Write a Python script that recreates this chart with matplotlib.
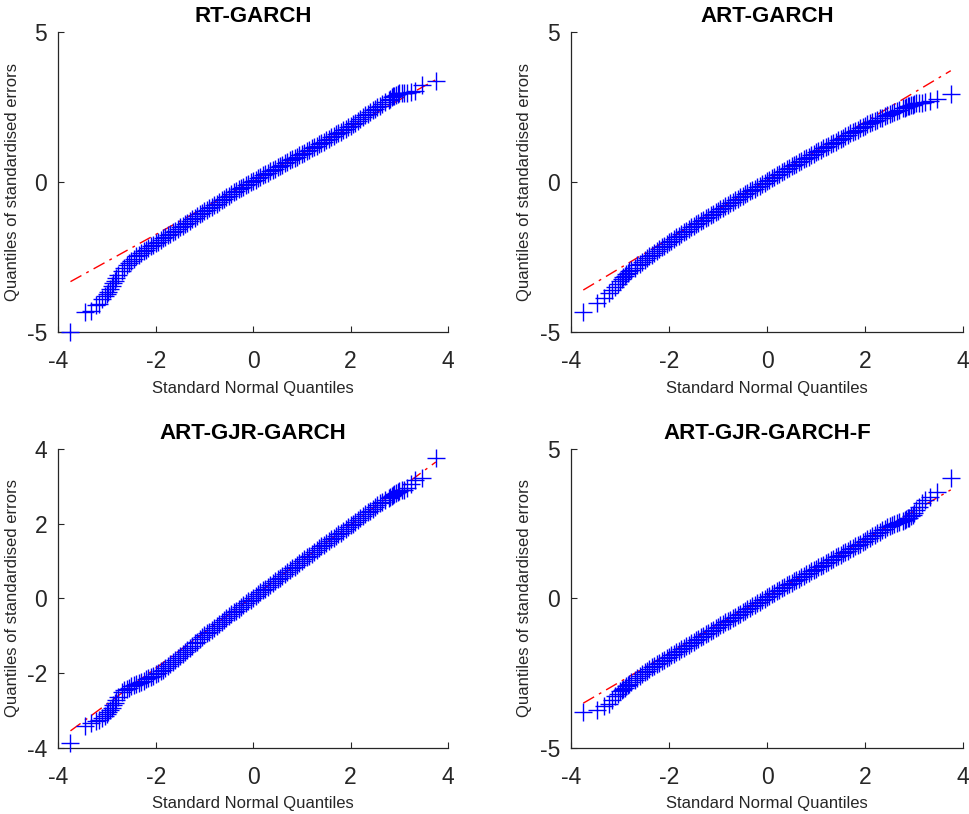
import matplotlib
matplotlib.use("Agg")
import matplotlib.pyplot as plt

plt.rcParams['font.family'] = ['Liberation Sans', 'DejaVu Sans']
plt.rcParams['axes.unicode_minus'] = False

# theoretical standard normal quantiles: lower tail, body, upper tail
std_normal_q = [
    -3.75, -3.46, -3.33, -3.23, -3.16, -3.10, -3.05, -3.00, -2.97, -2.93, -2.90, -2.87, -2.84, -2.81, -2.78,
    -2.70, -2.65, -2.60, -2.55, -2.50, -2.45, -2.40, -2.35, -2.30, -2.25, -2.20, -2.15, -2.10, -2.05,
    -2.00, -1.95, -1.90, -1.85, -1.80, -1.75, -1.70, -1.65, -1.60, -1.55,
    -1.50, -1.45, -1.40, -1.35, -1.30, -1.25, -1.20, -1.15, -1.10, -1.05,
    -1.00, -0.95, -0.90, -0.85, -0.80, -0.75, -0.70, -0.65, -0.60, -0.55,
    -0.50, -0.45, -0.40, -0.35, -0.30, -0.25, -0.20, -0.15, -0.10, -0.05,
    0.00, 0.05, 0.10, 0.15, 0.20, 0.25, 0.30, 0.35, 0.40, 0.45,
    0.50, 0.55, 0.60, 0.65, 0.70, 0.75, 0.80, 0.85, 0.90, 0.95,
    1.00, 1.05, 1.10, 1.15, 1.20, 1.25, 1.30, 1.35, 1.40, 1.45,
    1.50, 1.55, 1.60, 1.65, 1.70, 1.75, 1.80, 1.85, 1.90, 1.95,
    2.00, 2.05, 2.10, 2.15, 2.20, 2.25, 2.30, 2.35, 2.40, 2.45, 2.50, 2.55, 2.60, 2.65, 2.70,
    2.78, 2.81, 2.84, 2.87, 2.90, 2.93, 2.97, 3.00, 3.05, 3.10, 3.16, 3.23, 3.33, 3.46, 3.75,
]

# sample quantiles of the standardised errors, same order as above
rt_garch = [
    -5.00, -4.34, -4.30, -4.10, -4.05, -3.90, -3.80, -3.72, -3.65, -3.55, -3.48, -3.38, -3.30, -3.20, -3.10,
    -2.95, -2.86, -2.78, -2.70, -2.62, -2.55, -2.48, -2.42, -2.36, -2.30, -2.25, -2.19, -2.14, -2.09,
    -2.04, -1.99, -1.94, -1.88, -1.83, -1.78, -1.73, -1.67, -1.62, -1.56,
    -1.51, -1.46, -1.41, -1.35, -1.30, -1.24, -1.19, -1.13, -1.08, -1.02,
    -0.97, -0.92, -0.87, -0.82, -0.77, -0.72, -0.67, -0.61, -0.56, -0.50,
    -0.45, -0.39, -0.34, -0.29, -0.24, -0.19, -0.15, -0.10, -0.06, -0.01,
    0.03, 0.08, 0.12, 0.17, 0.22, 0.26, 0.31, 0.36, 0.41, 0.45,
    0.50, 0.54, 0.58, 0.63, 0.67, 0.72, 0.76, 0.80, 0.84, 0.89,
    0.93, 0.98, 1.03, 1.07, 1.12, 1.16, 1.21, 1.26, 1.31, 1.35,
    1.40, 1.45, 1.50, 1.54, 1.59, 1.63, 1.68, 1.73, 1.78, 1.83,
    1.88, 1.93, 1.98, 2.04, 2.10, 2.16, 2.22, 2.28, 2.34, 2.40, 2.45, 2.50, 2.55, 2.61, 2.66,
    2.74, 2.78, 2.82, 2.86, 2.88, 2.90, 2.93, 2.95, 2.96, 2.97, 2.98, 3.00, 3.02, 3.22, 3.35,
]
art_garch = [
    -4.34, -4.04, -3.85, -3.71, -3.60, -3.49, -3.40, -3.30, -3.24, -3.18, -3.12, -3.07, -3.02, -2.97, -2.93,
    -2.85, -2.78, -2.72, -2.66, -2.60, -2.54, -2.48, -2.42, -2.36, -2.30, -2.24, -2.18, -2.12, -2.06,
    -2.01, -1.95, -1.90, -1.84, -1.79, -1.73, -1.68, -1.62, -1.57, -1.51,
    -1.46, -1.41, -1.36, -1.31, -1.26, -1.20, -1.15, -1.10, -1.05, -1.00,
    -0.95, -0.90, -0.85, -0.80, -0.75, -0.70, -0.66, -0.61, -0.56, -0.51,
    -0.46, -0.41, -0.36, -0.31, -0.27, -0.22, -0.17, -0.12, -0.08, -0.03,
    0.02, 0.07, 0.12, 0.17, 0.22, 0.27, 0.32, 0.37, 0.42, 0.47,
    0.52, 0.56, 0.61, 0.66, 0.71, 0.76, 0.81, 0.85, 0.90, 0.94,
    0.99, 1.03, 1.08, 1.12, 1.17, 1.21, 1.26, 1.30, 1.35, 1.39,
    1.44, 1.48, 1.53, 1.57, 1.62, 1.66, 1.71, 1.75, 1.79, 1.84,
    1.88, 1.92, 1.96, 2.00, 2.04, 2.08, 2.12, 2.15, 2.19, 2.23, 2.27, 2.30, 2.34, 2.37, 2.41,
    2.46, 2.48, 2.50, 2.52, 2.54, 2.56, 2.58, 2.60, 2.62, 2.63, 2.64, 2.66, 2.69, 2.76, 2.92,
]
art_gjr_garch = [
    -3.87, -3.42, -3.33, -3.29, -3.25, -3.21, -3.16, -3.10, -3.05, -2.99, -2.93, -2.87, -2.80, -2.72, -2.64,
    -2.50, -2.46, -2.42, -2.39, -2.36, -2.33, -2.30, -2.27, -2.24, -2.21, -2.17, -2.14, -2.10, -2.07,
    -2.03, -1.99, -1.95, -1.91, -1.86, -1.81, -1.76, -1.71, -1.65, -1.60,
    -1.54, -1.49, -1.43, -1.38, -1.32, -1.27, -1.21, -1.16, -1.10, -1.05,
    -0.99, -0.94, -0.89, -0.84, -0.79, -0.73, -0.68, -0.63, -0.58, -0.53,
    -0.48, -0.43, -0.38, -0.33, -0.28, -0.23, -0.18, -0.13, -0.08, -0.04,
    0.01, 0.06, 0.11, 0.16, 0.21, 0.26, 0.31, 0.36, 0.41, 0.46,
    0.51, 0.55, 0.60, 0.65, 0.70, 0.75, 0.80, 0.85, 0.90, 0.95,
    1.00, 1.05, 1.10, 1.14, 1.19, 1.24, 1.29, 1.34, 1.39, 1.43,
    1.48, 1.53, 1.58, 1.62, 1.67, 1.71, 1.76, 1.81, 1.86, 1.90,
    1.95, 2.00, 2.05, 2.10, 2.15, 2.20, 2.25, 2.30, 2.35, 2.40, 2.45, 2.50, 2.54, 2.58, 2.62,
    2.68, 2.71, 2.74, 2.77, 2.79, 2.82, 2.85, 2.87, 2.89, 2.91, 2.95, 3.07, 3.18, 3.22, 3.77,
]
art_gjr_garch_f = [
    -3.80, -3.73, -3.62, -3.53, -3.40, -3.27, -3.20, -3.10, -3.06, -3.03, -3.00, -2.95, -2.90, -2.86, -2.81,
    -2.72, -2.66, -2.60, -2.54, -2.48, -2.42, -2.37, -2.31, -2.26, -2.21, -2.16, -2.11, -2.06, -2.01,
    -1.96, -1.91, -1.86, -1.81, -1.76, -1.71, -1.66, -1.61, -1.56, -1.51,
    -1.46, -1.41, -1.36, -1.31, -1.26, -1.21, -1.16, -1.11, -1.06, -1.01,
    -0.96, -0.91, -0.86, -0.81, -0.76, -0.71, -0.66, -0.61, -0.56, -0.51,
    -0.46, -0.41, -0.36, -0.31, -0.26, -0.21, -0.16, -0.11, -0.06, -0.01,
    0.04, 0.09, 0.14, 0.19, 0.24, 0.28, 0.33, 0.38, 0.43, 0.47,
    0.52, 0.57, 0.62, 0.66, 0.71, 0.76, 0.81, 0.85, 0.90, 0.94,
    0.99, 1.04, 1.09, 1.13, 1.18, 1.22, 1.27, 1.32, 1.37, 1.41,
    1.46, 1.50, 1.55, 1.59, 1.64, 1.69, 1.74, 1.78, 1.83, 1.87,
    1.92, 1.97, 2.02, 2.07, 2.12, 2.17, 2.22, 2.27, 2.32, 2.37, 2.42, 2.46, 2.50, 2.53, 2.56,
    2.60, 2.63, 2.66, 2.68, 2.70, 2.74, 2.78, 2.86, 2.96, 3.07, 3.18, 3.29, 3.40, 3.57, 4.02,
]

# fitted reference line, value at the lowest and highest theoretical quantile
ref_rt_garch = [-3.32, 3.41]
ref_art_garch = [-3.60, 3.71]
ref_art_gjr_garch = [-3.55, 3.65]
ref_art_gjr_garch_f = [-3.51, 3.63]

titles = ['RT-GARCH', 'ART-GARCH', 'ART-GJR-GARCH', 'ART-GJR-GARCH-F']
samples = [rt_garch, art_garch, art_gjr_garch, art_gjr_garch_f]
ref_lines = [ref_rt_garch, ref_art_garch, ref_art_gjr_garch, ref_art_gjr_garch_f]
y_limits = [(-5, 5), (-5, 5), (-4, 4), (-5, 5)]
y_ticks = [[-5, 0, 5], [-5, 0, 5], [-4, -2, 0, 2, 4], [-5, 0, 5]]
x_ticks = [-4, -2, 0, 2, 4]

positions = [
    [0.0601, 0.5921, 0.4018, 0.3686],
    [0.5887, 0.5921, 0.4041, 0.3686],
    [0.0601, 0.0815, 0.4018, 0.3670],
    [0.5887, 0.0815, 0.4041, 0.3670],
]

axis_col = '#262626'
fig = plt.figure(figsize=(9.7, 8.14), dpi=100)

for pos, title, y, ref, ylim, yt in zip(positions, titles, samples, ref_lines, y_limits, y_ticks):
    ax = fig.add_axes(pos)
    ends = [std_normal_q[0], std_normal_q[-1]]
    ax.plot(ends, ref, color='r', lw=1.0, ls=(0, (9, 4, 2, 4)), zorder=2)
    ax.plot(std_normal_q, y, ls='none', marker='+', color='b',
            markersize=12.5, markeredgewidth=1.0, zorder=3, clip_on=False)
    ax.set_xlim(-4, 4)
    ax.set_ylim(*ylim)
    ax.set_xticks(x_ticks)
    ax.set_yticks(yt)
    for side in ['top', 'right']:
        ax.spines[side].set_visible(False)
    for side in ['left', 'bottom']:
        ax.spines[side].set_color(axis_col)
        ax.spines[side].set_linewidth(0.9)
    ax.tick_params(direction='in', length=4, width=0.8, colors=axis_col, labelsize=16.5)
    ax.tick_params(axis='x', pad=13)
    ax.tick_params(axis='y', pad=8)
    ax.set_title(title, fontsize=16, fontweight='bold', pad=7.5)
    ax.set_xlabel('Standard Normal Quantiles', fontsize=12, color=axis_col)
    ax.set_ylabel('Quantiles of standardised errors', fontsize=12, color=axis_col)
    ax.xaxis.set_label_coords(0.5, -0.187)
    ax.xaxis.label.set_va('center')
    ax.yaxis.set_label_coords(-0.118, 0.5)
    ax.yaxis.label.set_va('center')

fig.savefig('out.png', dpi=100)
